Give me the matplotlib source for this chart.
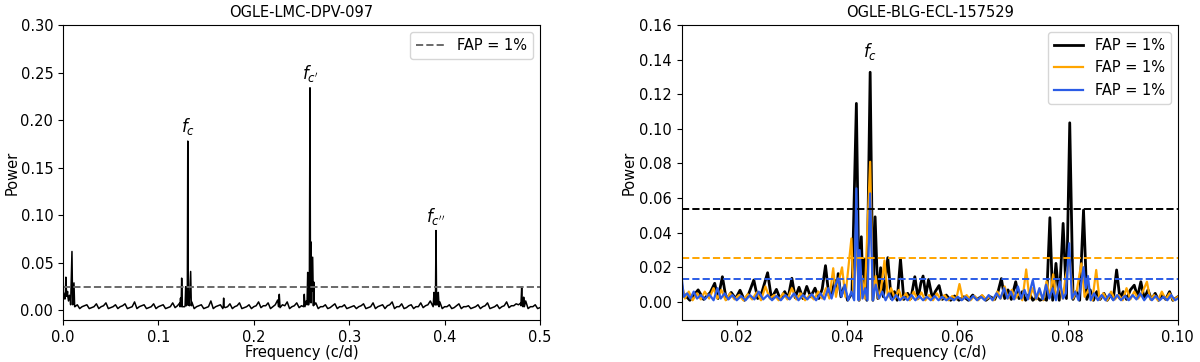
import numpy as np
import matplotlib
matplotlib.use("Agg")
import matplotlib.pyplot as plt

# ---- left panel: OGLE-LMC-DPV-097 ----
lmc_grid = np.linspace(0.0, 0.5, 101)
lmc_floor = [
    0.020, 0.015, 0.012, 0.006, 0.004, 0.006, 0.003, 0.007, 0.004, 0.008,
    0.003, 0.006, 0.004, 0.007, 0.003, 0.009, 0.004, 0.006, 0.003, 0.007,
    0.004, 0.006, 0.003, 0.008, 0.005, 0.010, 0.006, 0.009, 0.004, 0.006,
    0.003, 0.010, 0.004, 0.006, 0.003, 0.007, 0.004, 0.008, 0.003, 0.006,
    0.004, 0.009, 0.005, 0.008, 0.004, 0.011, 0.006, 0.009, 0.004, 0.008,
    0.005, 0.010, 0.008, 0.008, 0.004, 0.006, 0.003, 0.007, 0.004, 0.006,
    0.003, 0.005, 0.004, 0.007, 0.003, 0.008, 0.004, 0.006, 0.005, 0.009,
    0.004, 0.007, 0.003, 0.006, 0.004, 0.008, 0.005, 0.010, 0.007, 0.009,
    0.004, 0.006, 0.003, 0.007, 0.004, 0.005, 0.003, 0.006, 0.004, 0.008,
    0.003, 0.006, 0.004, 0.009, 0.005, 0.007, 0.008, 0.010, 0.004, 0.006,
    0.003,
]
# floor values half way between the grid points above
lmc_mid_grid = np.linspace(0.0025, 0.4975, 100)
lmc_floor_mid = [
    0.016, 0.013, 0.004, 0.002, 0.005, 0.002, 0.004, 0.002, 0.005, 0.002,
    0.004, 0.002, 0.005, 0.002, 0.004, 0.002, 0.005, 0.002, 0.004, 0.002,
    0.005, 0.002, 0.004, 0.003, 0.008, 0.004, 0.005, 0.002, 0.005, 0.002,
    0.004, 0.002, 0.005, 0.002, 0.004, 0.002, 0.005, 0.002, 0.004, 0.002,
    0.005, 0.003, 0.005, 0.002, 0.006, 0.003, 0.005, 0.002, 0.005, 0.003,
    0.007, 0.006, 0.005, 0.002, 0.004, 0.002, 0.005, 0.002, 0.004, 0.002,
    0.004, 0.002, 0.005, 0.002, 0.004, 0.002, 0.005, 0.002, 0.006, 0.002,
    0.004, 0.002, 0.005, 0.002, 0.004, 0.003, 0.006, 0.005, 0.006, 0.002,
    0.004, 0.002, 0.005, 0.002, 0.004, 0.002, 0.004, 0.002, 0.005, 0.002,
    0.004, 0.002, 0.005, 0.003, 0.005, 0.006, 0.006, 0.002, 0.004, 0.002,
]
lmc_peak_freq = [
    0.0008, 0.0020, 0.0030, 0.0038, 0.0048, 0.0058, 0.0068, 0.0080, 0.0094, 0.0102, 0.0115, 0.0122,
    0.1225, 0.1232, 0.1238, 0.1244, 0.1250, 0.1280, 0.1286, 0.1292, 0.1303, 0.1308, 0.1314,
    0.1325, 0.1338, 0.1345, 0.1680, 0.1684, 0.1688,
    0.2260, 0.2267, 0.2274, 0.2522, 0.2529, 0.2536, 0.2558, 0.2565, 0.2572, 0.2582, 0.2589,
    0.2594, 0.2600, 0.2606, 0.2617, 0.2624, 0.2628, 0.2635,
    0.3880, 0.3889, 0.3897, 0.3904, 0.3910, 0.3916, 0.3926, 0.3934, 0.3942,
    0.4800, 0.4808, 0.4815, 0.4822, 0.4829, 0.4836,
]
lmc_peak_power = [
    0.018, 0.012, 0.035, 0.015, 0.020, 0.010, 0.016, 0.006, 0.062, 0.006, 0.029, 0.004,
    0.004, 0.013, 0.004, 0.034, 0.004, 0.005, 0.025, 0.005, 0.006, 0.178, 0.006,
    0.008, 0.041, 0.005, 0.004, 0.013, 0.004,
    0.004, 0.017, 0.004, 0.004, 0.017, 0.004, 0.006, 0.040, 0.006, 0.010, 0.234,
    0.030, 0.072, 0.020, 0.056, 0.010, 0.030, 0.006,
    0.004, 0.019, 0.006, 0.006, 0.084, 0.006, 0.008, 0.019, 0.004,
    0.005, 0.0245, 0.005, 0.004, 0.014, 0.004,
]
lmc_fap = 0.025
lmc_labels = [r"$f_c$", r"$f_{c'}$", r"$f_{c''}$"]
lmc_label_freq = [0.1308, 0.2589, 0.3910]
lmc_label_power = [0.178, 0.234, 0.084]

# ---- right panel: OGLE-BLG-ECL-157529 ----
blg_black_freq = [
    0.0100, 0.0115, 0.0130, 0.0140, 0.0152, 0.0160, 0.0166, 0.0174, 0.0181, 0.0190,
    0.0198, 0.0206, 0.0214, 0.0222, 0.0231, 0.0238, 0.0246, 0.0256, 0.0263, 0.0272,
    0.0279, 0.0287, 0.0293, 0.0300, 0.0306, 0.0313, 0.0320, 0.0327, 0.0334, 0.0342,
    0.0349, 0.0355, 0.0361, 0.0367, 0.0372, 0.0378, 0.0381, 0.0384, 0.0389, 0.0395,
    0.0401, 0.0409, 0.0417, 0.0422, 0.0426, 0.0429, 0.0432, 0.0436, 0.0442, 0.0447,
    0.0451, 0.0456, 0.0461, 0.0466, 0.0474, 0.0480, 0.0486, 0.0491, 0.0497, 0.0503,
    0.0510, 0.0516, 0.0523, 0.0529, 0.0534, 0.0538, 0.0543, 0.0548, 0.0555, 0.0560,
    0.0567, 0.0573, 0.0580, 0.0588, 0.0595, 0.0603, 0.0612, 0.0620, 0.0628, 0.0636,
    0.0645, 0.0652, 0.0660, 0.0668, 0.0674, 0.0680, 0.0686, 0.0692, 0.0698, 0.0706,
    0.0712, 0.0718, 0.0724, 0.0731, 0.0737, 0.0744, 0.0750, 0.0757, 0.0762, 0.0768,
    0.0773, 0.0779, 0.0785, 0.0792, 0.0798, 0.0804, 0.0810, 0.0816, 0.0822, 0.0829,
    0.0835, 0.0841, 0.0847, 0.0853, 0.0859, 0.0866, 0.0872, 0.0878, 0.0883, 0.0889,
    0.0895, 0.0901, 0.0907, 0.0914, 0.0921, 0.0927, 0.0933, 0.0939, 0.0946, 0.0952,
    0.0959, 0.0965, 0.0972, 0.0978, 0.0985, 0.0991, 0.1000,
]
blg_black_power = [
    0.0060, 0.0010, 0.0070, 0.0015, 0.0055, 0.0108, 0.0020, 0.0146, 0.0015, 0.0055,
    0.0020, 0.0068, 0.0010, 0.0050, 0.0127, 0.0020, 0.0060, 0.0169, 0.0020, 0.0073,
    0.0015, 0.0060, 0.0020, 0.0137, 0.0025, 0.0085, 0.0020, 0.0090, 0.0030, 0.0080,
    0.0020, 0.0075, 0.0210, 0.0040, 0.0040, 0.0125, 0.0060, 0.0164, 0.0030, 0.0090,
    0.0010, 0.0050, 0.1147, 0.0010, 0.0377, 0.0050, 0.0248, 0.0010, 0.1327, 0.0010,
    0.0492, 0.0020, 0.0198, 0.0030, 0.0256, 0.0020, 0.0060, 0.0010, 0.0248, 0.0015,
    0.0050, 0.0020, 0.0146, 0.0020, 0.0110, 0.0150, 0.0040, 0.0130, 0.0020, 0.0060,
    0.0095, 0.0015, 0.0040, 0.0010, 0.0035, 0.0010, 0.0030, 0.0010, 0.0040, 0.0015,
    0.0035, 0.0010, 0.0030, 0.0015, 0.0060, 0.0135, 0.0020, 0.0070, 0.0015, 0.0117,
    0.0020, 0.0060, 0.0010, 0.0050, 0.0010, 0.0030, 0.0010, 0.0020, 0.0010, 0.0487,
    0.0010, 0.0223, 0.0010, 0.0454, 0.0020, 0.1035, 0.0015, 0.0060, 0.0010, 0.0531,
    0.0015, 0.0070, 0.0010, 0.0060, 0.0015, 0.0050, 0.0010, 0.0040, 0.0015, 0.0185,
    0.0020, 0.0060, 0.0015, 0.0070, 0.0097, 0.0030, 0.0117, 0.0020, 0.0070, 0.0015,
    0.0050, 0.0010, 0.0040, 0.0015, 0.0060, 0.0010, 0.0030,
]
blg_orange_freq = [
    0.0100, 0.0106, 0.0113, 0.0120, 0.0128, 0.0135, 0.0142, 0.0150, 0.0158, 0.0165,
    0.0172, 0.0180, 0.0188, 0.0196, 0.0204, 0.0212, 0.0220, 0.0228, 0.0236, 0.0244,
    0.0252, 0.0260, 0.0268, 0.0276, 0.0284, 0.0292, 0.0300, 0.0308, 0.0316, 0.0324,
    0.0332, 0.0340, 0.0348, 0.0355, 0.0362, 0.0368, 0.0375, 0.0380, 0.0385, 0.0391,
    0.0397, 0.0408, 0.0412, 0.0417, 0.0422, 0.0427, 0.0432, 0.0442, 0.0447, 0.0452,
    0.0457, 0.0462, 0.0468, 0.0474, 0.0480, 0.0487, 0.0494, 0.0500, 0.0507, 0.0514,
    0.0521, 0.0528, 0.0535, 0.0542, 0.0549, 0.0556, 0.0563, 0.0570, 0.0577, 0.0584,
    0.0591, 0.0598, 0.0604, 0.0610, 0.0617, 0.0624, 0.0631, 0.0638, 0.0645, 0.0652,
    0.0659, 0.0666, 0.0673, 0.0679, 0.0686, 0.0692, 0.0699, 0.0705, 0.0712, 0.0718,
    0.0725, 0.0731, 0.0737, 0.0743, 0.0750, 0.0756, 0.0762, 0.0768, 0.0774, 0.0779,
    0.0785, 0.0791, 0.0797, 0.0804, 0.0810, 0.0817, 0.0825, 0.0831, 0.0838, 0.0845,
    0.0852, 0.0858, 0.0865, 0.0872, 0.0879, 0.0886, 0.0893, 0.0900, 0.0907, 0.0914,
    0.0921, 0.0928, 0.0935, 0.0944, 0.0950, 0.0957, 0.0964, 0.0971, 0.0978, 0.0985,
    0.0992, 0.1000,
]
blg_orange_power = [
    0.0110, 0.0020, 0.0060, 0.0010, 0.0050, 0.0015, 0.0060, 0.0020, 0.0080, 0.0020,
    0.0070, 0.0010, 0.0050, 0.0015, 0.0040, 0.0010, 0.0045, 0.0015, 0.0055, 0.0010,
    0.0090, 0.0020, 0.0040, 0.0010, 0.0050, 0.0015, 0.0080, 0.0015, 0.0050, 0.0010,
    0.0040, 0.0015, 0.0060, 0.0020, 0.0080, 0.0020, 0.0195, 0.0030, 0.0120, 0.0200,
    0.0030, 0.0367, 0.0020, 0.0350, 0.0010, 0.0150, 0.0020, 0.0810, 0.0020, 0.0150,
    0.0020, 0.0080, 0.0240, 0.0030, 0.0080, 0.0020, 0.0070, 0.0015, 0.0050, 0.0010,
    0.0060, 0.0015, 0.0055, 0.0010, 0.0040, 0.0010, 0.0050, 0.0015, 0.0040, 0.0010,
    0.0035, 0.0015, 0.0104, 0.0015, 0.0040, 0.0010, 0.0035, 0.0010, 0.0040, 0.0015,
    0.0030, 0.0010, 0.0060, 0.0020, 0.0090, 0.0020, 0.0070, 0.0020, 0.0050, 0.0010,
    0.0188, 0.0020, 0.0080, 0.0015, 0.0060, 0.0010, 0.0120, 0.0030, 0.0160, 0.0020,
    0.0100, 0.0020, 0.0150, 0.0250, 0.0020, 0.0070, 0.0223, 0.0030, 0.0070, 0.0010,
    0.0185, 0.0015, 0.0050, 0.0010, 0.0060, 0.0015, 0.0040, 0.0010, 0.0080, 0.0015,
    0.0060, 0.0020, 0.0050, 0.0117, 0.0015, 0.0040, 0.0010, 0.0060, 0.0015, 0.0050,
    0.0010, 0.0030,
]
blg_blue_freq = [
    0.0100, 0.0104, 0.0110, 0.0116, 0.0122, 0.0128, 0.0135, 0.0142, 0.0150, 0.0158,
    0.0165, 0.0171, 0.0178, 0.0185, 0.0192, 0.0200, 0.0208, 0.0216, 0.0224, 0.0232,
    0.0240, 0.0248, 0.0256, 0.0264, 0.0272, 0.0280, 0.0288, 0.0296, 0.0304, 0.0312,
    0.0320, 0.0328, 0.0336, 0.0344, 0.0352, 0.0359, 0.0366, 0.0372, 0.0378, 0.0384,
    0.0390, 0.0396, 0.0402, 0.0408, 0.0413, 0.0417, 0.0421, 0.0423, 0.0428, 0.0433,
    0.0437, 0.0442, 0.0447, 0.0452, 0.0458, 0.0464, 0.0470, 0.0476, 0.0482, 0.0489,
    0.0496, 0.0503, 0.0510, 0.0517, 0.0524, 0.0531, 0.0538, 0.0545, 0.0552, 0.0559,
    0.0566, 0.0573, 0.0580, 0.0587, 0.0594, 0.0601, 0.0608, 0.0615, 0.0622, 0.0629,
    0.0636, 0.0643, 0.0650, 0.0657, 0.0664, 0.0671, 0.0678, 0.0685, 0.0691, 0.0697,
    0.0703, 0.0710, 0.0716, 0.0722, 0.0728, 0.0737, 0.0743, 0.0749, 0.0755, 0.0761,
    0.0767, 0.0773, 0.0779, 0.0786, 0.0792, 0.0797, 0.0803, 0.0808, 0.0814, 0.0820,
    0.0829, 0.0833, 0.0837, 0.0842, 0.0848, 0.0855, 0.0862, 0.0869, 0.0876, 0.0883,
    0.0890, 0.0897, 0.0904, 0.0911, 0.0918, 0.0925, 0.0932, 0.0939, 0.0946, 0.0953,
    0.0960, 0.0967, 0.0974, 0.0981, 0.0988, 0.0995, 0.1000,
]
blg_blue_power = [
    0.0146, 0.0030, 0.0050, 0.0020, 0.0060, 0.0020, 0.0040, 0.0015, 0.0045, 0.0010,
    0.0080, 0.0020, 0.0050, 0.0015, 0.0040, 0.0010, 0.0035, 0.0010, 0.0040, 0.0015,
    0.0060, 0.0015, 0.0040, 0.0010, 0.0035, 0.0010, 0.0040, 0.0015, 0.0050, 0.0010,
    0.0040, 0.0015, 0.0045, 0.0010, 0.0050, 0.0015, 0.0080, 0.0020, 0.0090, 0.0137,
    0.0030, 0.0100, 0.0010, 0.0060, 0.0010, 0.0656, 0.0010, 0.0300, 0.0020, 0.0080,
    0.0010, 0.0627, 0.0010, 0.0100, 0.0020, 0.0060, 0.0010, 0.0050, 0.0010, 0.0040,
    0.0010, 0.0030, 0.0010, 0.0040, 0.0010, 0.0035, 0.0010, 0.0030, 0.0010, 0.0035,
    0.0010, 0.0030, 0.0010, 0.0025, 0.0010, 0.0030, 0.0010, 0.0030, 0.0010, 0.0035,
    0.0010, 0.0030, 0.0010, 0.0040, 0.0010, 0.0050, 0.0020, 0.0080, 0.0020, 0.0060,
    0.0015, 0.0090, 0.0020, 0.0070, 0.0015, 0.0127, 0.0020, 0.0080, 0.0015, 0.0100,
    0.0020, 0.0080, 0.0010, 0.0120, 0.0020, 0.0050, 0.0339, 0.0020, 0.0060, 0.0010,
    0.0201, 0.0080, 0.0150, 0.0010, 0.0050, 0.0010, 0.0040, 0.0010, 0.0045, 0.0010,
    0.0040, 0.0010, 0.0035, 0.0010, 0.0040, 0.0015, 0.0050, 0.0010, 0.0040, 0.0010,
    0.0035, 0.0010, 0.0030, 0.0010, 0.0040, 0.0010, 0.0020,
]
blg_fap = [0.0537, 0.0254, 0.0135]
blg_colors = ["black", "orange", "#2b5ce6"]
blg_label_freq = 0.0442
blg_label_power = 0.1327


def main():
    plt.rcParams["font.size"] = 10.5
    fig = plt.figure(figsize=(12, 3.62), dpi=100)
    ax1 = fig.add_axes([0.0525, 0.116, 0.3975, 0.815])
    ax2 = fig.add_axes([0.568, 0.116, 0.4135, 0.815])

    # left: merge the regular floor with the narrow peaks
    f = np.concatenate([lmc_grid, lmc_mid_grid, lmc_peak_freq])
    p = np.concatenate([lmc_floor, lmc_floor_mid, lmc_peak_power])
    order = np.argsort(f, kind="stable")
    ax1.plot(f[order], p[order], color="black", lw=1.1)
    ax1.axhline(lmc_fap, color="dimgray", ls="--", lw=1.4, label="FAP = 1%")
    for lab, lf, lp in zip(lmc_labels, lmc_label_freq, lmc_label_power):
        ax1.text(lf, lp + 0.004, lab, ha="center", va="bottom", fontsize=12)
    ax1.set_xlim(0, 0.5)
    ax1.set_ylim(-0.01, 0.30)
    ax1.set_xlabel("Frequency (c/d)", labelpad=0.5)
    ax1.set_ylabel("Power", labelpad=0.5)
    ax1.set_title("OGLE-LMC-DPV-097", fontsize=10.5)
    ax1.legend(loc="upper right")

    # right: three periodograms
    series = [(blg_black_freq, blg_black_power, 2.0),
              (blg_orange_freq, blg_orange_power, 1.6),
              (blg_blue_freq, blg_blue_power, 1.6)]
    for (sf, sp, lw), c in zip(series, blg_colors):
        ax2.plot(sf, sp, color=c, lw=lw, label="FAP = 1%")
    for fap, c in zip(blg_fap, blg_colors):
        ax2.axhline(fap, color=c, ls="--", lw=1.4)
    ax2.text(blg_label_freq, blg_label_power + 0.006, r"$f_c$",
             ha="center", va="bottom", fontsize=12)
    ax2.set_xlim(0.01, 0.10)
    ax2.set_ylim(-0.0104, 0.16)
    ax2.set_xlabel("Frequency (c/d)", labelpad=0.5)
    ax2.set_ylabel("Power", labelpad=1.5)
    ax2.set_title("OGLE-BLG-ECL-157529", fontsize=10.5)
    ax2.legend(loc="upper right")

    fig.savefig("out.png", dpi=100)
    plt.close(fig)


if __name__ == "__main__":
    main()
